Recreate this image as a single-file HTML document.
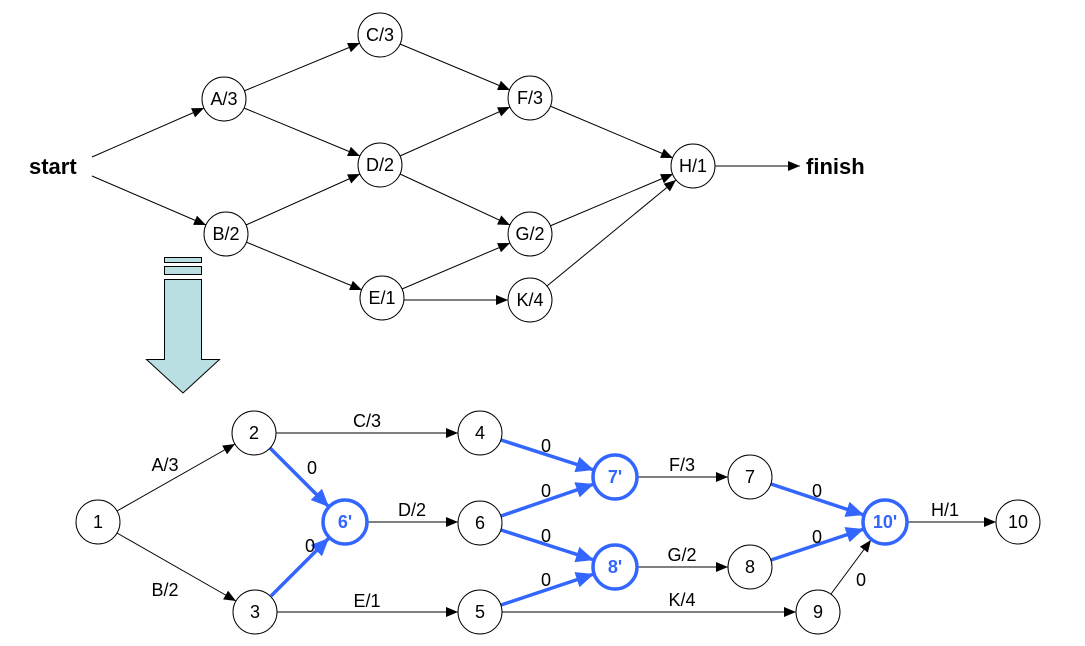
<!DOCTYPE html>
<html><head><meta charset="utf-8"><style>
html,body{margin:0;padding:0;background:#fff;width:1085px;height:646px;overflow:hidden}
svg{display:block}
text{font-family:"Liberation Sans",sans-serif;font-size:18px;fill:#000}
</style></head><body>
<svg width="1085" height="646" viewBox="0 0 1085 646" xmlns="http://www.w3.org/2000/svg">
<defs>
<marker id="a" markerUnits="userSpaceOnUse" markerWidth="12" markerHeight="10" refX="12" refY="5" orient="auto"><path d="M0,0L12,5L0,10z" fill="#000"/></marker>
<marker id="b" markerUnits="userSpaceOnUse" markerWidth="18" markerHeight="16" refX="18" refY="8" orient="auto"><path d="M0,0L18,8L0,16z" fill="#3366ff"/></marker>
</defs>
<g stroke="#000" stroke-width="1" fill="none" marker-end="url(#a)">
<line x1="92" y1="157" x2="204" y2="108"/>
<line x1="92" y1="176" x2="206" y2="225"/>
<line x1="244" y1="91" x2="360" y2="43"/>
<line x1="244" y1="108" x2="360" y2="156"/>
<line x1="246" y1="225" x2="360" y2="174"/>
<line x1="246" y1="242" x2="362" y2="290"/>
<line x1="400" y1="44" x2="510" y2="90"/>
<line x1="400" y1="156" x2="510" y2="107"/>
<line x1="400" y1="174" x2="510" y2="225"/>
<line x1="402" y1="289" x2="510" y2="243"/>
<line x1="404" y1="300" x2="508" y2="300"/>
<line x1="550" y1="106" x2="673" y2="158"/>
<line x1="550" y1="226" x2="673" y2="174"/>
<line x1="547" y1="286" x2="676" y2="180"/>
<line x1="715" y1="166" x2="800" y2="166"/>
<line x1="117" y1="511" x2="235" y2="444"/>
<line x1="117" y1="533" x2="236" y2="601"/>
<line x1="276" y1="433" x2="458" y2="433"/>
<line x1="367" y1="522" x2="458" y2="522"/>
<line x1="277" y1="612" x2="458" y2="612"/>
<line x1="637" y1="477" x2="728" y2="477"/>
<line x1="637" y1="567" x2="728" y2="567"/>
<line x1="502" y1="612" x2="796" y2="612"/>
<line x1="831" y1="594" x2="871" y2="540"/>
<line x1="907" y1="522" x2="996" y2="522"/>
</g>
<g stroke="#3366ff" stroke-width="3.5" fill="none" marker-end="url(#b)">
<line x1="270" y1="448" x2="329" y2="507"/>
<line x1="271" y1="596" x2="329" y2="538"/>
<line x1="501" y1="440" x2="594" y2="470"/>
<line x1="501" y1="516" x2="594" y2="484"/>
<line x1="501" y1="530" x2="594" y2="560"/>
<line x1="501" y1="605" x2="594" y2="574"/>
<line x1="771" y1="484" x2="864" y2="515"/>
<line x1="771" y1="560" x2="864" y2="529"/>
</g>
<g fill="#fff" stroke="#000" stroke-width="1">
<circle cx="380" cy="35" r="22"/><circle cx="224" cy="99" r="22"/><circle cx="530" cy="98" r="22"/>
<circle cx="380" cy="165" r="22"/><circle cx="693" cy="166" r="22"/><circle cx="226" cy="234" r="22"/>
<circle cx="530" cy="234" r="22"/><circle cx="382" cy="298" r="22"/><circle cx="530" cy="300" r="22"/>
<circle cx="98" cy="522" r="22"/><circle cx="254" cy="433" r="22"/><circle cx="480" cy="433" r="22"/>
<circle cx="750" cy="477" r="22"/><circle cx="480" cy="523" r="22"/><circle cx="1018" cy="522" r="22"/>
<circle cx="255" cy="612" r="22"/><circle cx="480" cy="612" r="22"/><circle cx="750" cy="567" r="22"/>
<circle cx="818" cy="612" r="22"/>
</g>
<g fill="#fff" stroke="#3366ff" stroke-width="3.5">
<circle cx="345" cy="522" r="22"/><circle cx="615" cy="477" r="22"/><circle cx="615" cy="567" r="22"/><circle cx="885" cy="522" r="22"/>
</g>
<g text-anchor="middle">
<text x="380" y="41">C/3</text><text x="224" y="105">A/3</text><text x="530" y="104">F/3</text>
<text x="380" y="171">D/2</text><text x="693" y="172">H/1</text><text x="226" y="240">B/2</text>
<text x="530" y="240">G/2</text><text x="382" y="304">E/1</text><text x="530" y="306">K/4</text>
<text x="98" y="528">1</text><text x="254" y="439">2</text><text x="480" y="439">4</text>
<text x="750" y="483">7</text><text x="480" y="529">6</text><text x="1018" y="528">10</text>
<text x="255" y="618">3</text><text x="480" y="618">5</text><text x="750" y="573">8</text><text x="818" y="618">9</text>
<text x="345" y="528" style="fill:#3366ff;font-weight:bold">6'</text><text x="615" y="483" style="fill:#3366ff;font-weight:bold">7'</text>
<text x="615" y="573" style="fill:#3366ff;font-weight:bold">8'</text><text x="885" y="528" style="fill:#3366ff;font-weight:bold">10'</text>
<text x="165" y="471">A/3</text><text x="165" y="596">B/2</text><text x="367" y="427">C/3</text>
<text x="412" y="516">D/2</text><text x="367" y="607">E/1</text><text x="682" y="471">F/3</text>
<text x="682" y="561">G/2</text><text x="682" y="606">K/4</text><text x="945" y="516">H/1</text>
<text x="312" y="474">0</text><text x="310" y="552">0</text><text x="546" y="452">0</text>
<text x="546" y="497">0</text><text x="546" y="542">0</text><text x="546" y="586">0</text>
<text x="817" y="497">0</text><text x="817" y="543">0</text><text x="861" y="586">0</text>
</g>
<text x="29" y="174" style="font-size:22px;font-weight:bold">start</text>
<text x="806" y="174" style="font-size:22px;font-weight:bold">finish</text>
<g fill="#b9dfe2" stroke="#000" stroke-width="1">
<rect x="164.5" y="257.5" width="37" height="5"/>
<rect x="164.5" y="266.5" width="37" height="8"/>
<path d="M164.5,279.5H201.5V359.5H219.5L183,393L146.5,359.5H164.5Z"/>
</g>
</svg>
</body></html>
